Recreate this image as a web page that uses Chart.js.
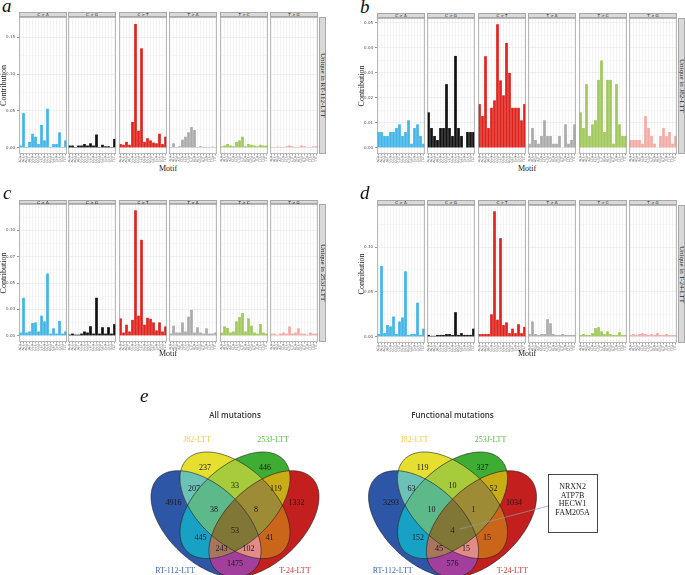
<!DOCTYPE html>
<html>
<head>
<meta charset="utf-8">
<script src="https://cdn.jsdelivr.net/npm/chart.js@4.4.1/dist/chart.umd.min.js"></script>
<style>
  html, body { margin: 0; padding: 0; background: #fff; }
  #page { position: relative; width: 685px; height: 575px; overflow: hidden; background: #fff; }
  #page canvas { position: absolute; }
  .txt { position: absolute; white-space: nowrap; }
  .letter { font: italic 19px "Liberation Serif"; line-height: 19px; color: #111; }
  .strip { position: absolute; box-sizing: border-box; background: #d9d9d9; border: 0.5px solid #a8a8a8;
           font: 4px "DejaVu Sans"; color: #1a1a1a; text-align: center; }
  .rstrip { position: absolute; box-sizing: border-box; background: #d9d9d9; border: 0.5px solid #a8a8a8;
            writing-mode: vertical-rl; font: 7px "Liberation Serif"; color: #1a1a1a;
            display: flex; align-items: center; justify-content: center; }
  .motif { font: 8px "Liberation Serif"; color: #1a1a1a; transform: translateX(-50%); }
</style>
</head>
<body>
<div id="page"></div>
<script>
Chart.defaults.font.family = '"DejaVu Sans", sans-serif';

// mutation types and trinucleotide contexts
const mutationTypes = ["C>A", "C>G", "C>T", "T>A", "T>C", "T>G"];
const typeColors = ["#3fb5e8", "#111111", "#e0231d", "#aaaaaa", "#a0c85a", "#f2aaa5"];
const contextsC = ["ACA","ACC","ACG","ACT","CCA","CCC","CCG","CCT","GCA","GCC","GCG","GCT","TCA","TCC","TCG","TCT"];
const contextsT = ["ATA","ATC","ATG","ATT","CTA","CTC","CTG","CTT","GTA","GTC","GTG","GTT","TTA","TTC","TTG","TTT"];

// relative contribution, 16 contexts per mutation type (C>A, C>G, C>T, T>A, T>C, T>G)
const rt112Unique = [
  0.003,0.047,0.001,0.008,0.019,0.015,0.005,0.031,0.010,0.053,0.001,0.005,0.005,0.021,0.001,0.010,
  0.003,0.003,0.001,0.003,0.003,0.005,0.003,0.006,0.003,0.018,0.001,0.004,0.002,0.002,0.001,0.012,
  0.005,0.004,0.008,0.004,0.035,0.168,0.023,0.135,0.008,0.013,0.010,0.007,0.006,0.019,0.005,0.015,
  0.001,0.006,0.001,0.002,0.011,0.015,0.021,0.028,0.024,0.001,0.002,0.001,0.001,0.001,0.0015,0.001,
  0.002,0.003,0.005,0.003,0.002,0.008,0.010,0.015,0.002,0.005,0.004,0.003,0.002,0.004,0.003,0.003,
  0.001,0.001,0.0015,0.001,0.001,0.002,0.003,0.002,0.001,0.001,0.003,0.002,0.001,0.001,0.002,0.002
];
const j82Unique = [
  0.0063,0.0063,0.0047,0.0047,0.0063,0.0063,0.0079,0.0094,0.0047,0.0063,0.011,0.0016,0.0079,0.0094,0.0047,0.0016,
  0.0142,0.0079,0.0047,0.0031,0.0079,0.0079,0.0255,0.0079,0.0047,0.0368,0.0079,0.0047,0,0.0063,0.0063,0.0063,
  0.0175,0.0127,0.0367,0.0079,0.016,0.019,0.0495,0.027,0.021,0.042,0.030,0.016,0.016,0.016,0.011,0.0175,
  0.0016,0.0079,0.0031,0.0016,0.0047,0.011,0.0047,0.0047,0.0016,0.0016,0.0047,0,0.0094,0.0016,0.0031,0.0094,
  0.0142,0.0079,0.0255,0.0047,0.0094,0.011,0.0272,0.035,0.0063,0.0272,0.0272,0.0016,0.0255,0.0094,0.0047,0.0047,
  0.0031,0.0031,0.0031,0.0031,0.0016,0.0127,0.0079,0.0047,0.0016,0,0.0047,0.0079,0.0047,0.0063,0.0016,0.0047
];
const j253Unique = [
  0.003,0.036,0.003,0.004,0.012,0.0126,0.004,0.019,0.0136,0.059,0.002,0.007,0.002,0.014,0.002,0.004,
  0.001,0.002,0.001,0.001,0.002,0.004,0.003,0.009,0.002,0.036,0.002,0.008,0.002,0.008,0.002,0.011,
  0.0164,0.003,0.0104,0.004,0.015,0.119,0.019,0.091,0.0104,0.017,0.016,0.0126,0.005,0.0126,0.004,0.0088,
  0.002,0.0095,0.003,0.003,0.0126,0.004,0.018,0.0246,0.003,0.008,0.003,0.002,0.007,0.002,0.002,0.003,
  0.003,0.0088,0.0073,0.003,0.004,0.0136,0.0177,0.0215,0.004,0.0164,0.0095,0.003,0.002,0.011,0.003,0.002,
  0.002,0.002,0.001,0.002,0.003,0.002,0.0088,0.002,0.003,0.007,0.002,0.002,0.001,0.003,0.002,0.002
];
const t24Unique = [
  0.003,0.079,0.004,0.013,0.0115,0.0226,0.003,0.017,0.0215,0.073,0.002,0.003,0.003,0.038,0.002,0.009,
  0.002,0.001,0.001,0.002,0.002,0.002,0.003,0.003,0.002,0.0274,0.002,0.004,0.002,0.002,0.002,0.009,
  0.003,0.003,0.003,0.003,0.025,0.14,0.019,0.11,0.013,0.016,0.004,0.009,0.004,0.014,0.004,0.011,
  0.003,0.017,0.003,0.002,0.003,0.003,0.0196,0.015,0.003,0.002,0.002,0.003,0.002,0.002,0.002,0.002,
  0.002,0.003,0.002,0.002,0.004,0.0096,0.0107,0.006,0.003,0.006,0.003,0.002,0.002,0.005,0.002,0.002,
  0.002,0.003,0.002,0.003,0.004,0.003,0.002,0.003,0.002,0.004,0.002,0.002,0.003,0.002,0.002,0.002
];

// y ticks (labelled) and minor grid lines
const yMajorA = [0, 0.05, 0.10, 0.15];
const yMinorA = [0.025, 0.075, 0.125, 0.175];
const yMajorB = [0, 0.01, 0.02, 0.03, 0.04, 0.05];
const yMinorB = [0.005, 0.015, 0.025, 0.035, 0.045];
const yMajorC = [0, 0.025, 0.05, 0.075, 0.10];
const yMinorC = [0.0125, 0.0375, 0.0625, 0.0875, 0.1125];
const yMajorD = [0, 0.05, 0.10];
const yMinorD = [0.025, 0.075, 0.125];

// venn diagrams: sets and regions (0 RT-112, 1 J82, 2 253J, 3 T-24)
const vennSets = ["RT-112-LTT", "J82-LTT", "253J-LTT", "T-24-LTT"];
const regionKeys = ["0","1","2","3","01","12","23","03","02","13","012","123","023","013","0123"];
const allMutations = [4916, 237, 446, 1332, 207, 33, 119, 1475, 445, 41, 38, 8, 243, 102, 53];
const functionalMutations = [3293, 119, 327, 1034, 63, 10, 52, 576, 152, 15, 10, 1, 45, 15, 4];
const sharedGenes = ["NRXN2", "ATP7B", "HECW1", "FAM205A"];

// ---------- layout ----------
const page = document.getElementById("page");

function addCanvas(x, y, w, h) {
  const c = document.createElement("canvas");
  c.width = w; c.height = h;
  c.style.left = x + "px"; c.style.top = y + "px";
  c.style.width = w + "px"; c.style.height = h + "px";
  page.appendChild(c);
  return c;
}

function addDiv(cls, text, x, y, w, h) {
  const d = document.createElement("div");
  d.className = cls;
  d.textContent = text;
  d.style.left = x + "px"; d.style.top = y + "px";
  if (w != null) d.style.width = w + "px";
  if (h != null) { d.style.height = h + "px"; d.style.lineHeight = (h - 0.5) + "px"; }
  page.appendChild(d);
  return d;
}

const leftsLeft = [19, 68, 119, 169, 220, 270];
const leftsRight = [377, 427, 478, 528, 579, 629];
const facetW = 48;
const axisW = 20;

const panels = [
  { letter: "a", label: "Unique in RT-112-LTT", values: rt112Unique, major: yMajorA, minor: yMinorA, yMin: -0.0085, yMax: 0.1775,
    lefts: leftsLeft, top: 17, bottom: 154, stripTop: 12, rstripX: 319, letterPos: [2, -4], motifPos: [168, 164] },
  { letter: "b", label: "Unique in J82-LTT", values: j82Unique, major: yMajorB, minor: yMinorB, yMin: -0.0025, yMax: 0.052,
    lefts: leftsRight, top: 18, bottom: 154, stripTop: 13, rstripX: 678, letterPos: [360, -3], motifPos: [527, 164] },
  { letter: "c", label: "Unique in 253J-LTT", values: j253Unique, major: yMajorC, minor: yMinorC, yMin: -0.006, yMax: 0.125,
    lefts: leftsLeft, top: 204, bottom: 342, stripTop: 200, rstripX: 319, letterPos: [3, 183], motifPos: [168, 349] },
  { letter: "d", label: "Unique in T-24-LTT", values: t24Unique, major: yMajorD, minor: yMinorD, yMin: -0.007, yMax: 0.147,
    lefts: leftsRight, top: 205, bottom: 343, stripTop: 200, rstripX: 678, letterPos: [360, 183], motifPos: [527, 349] }
];

const panelBorder = {
  id: "panelBorder",
  afterDraw(chart) {
    const { ctx, chartArea: a } = chart;
    ctx.save();
    ctx.strokeStyle = "#a9a9a9";
    ctx.lineWidth = 0.8;
    ctx.strokeRect(a.left + 0.4, a.top + 0.4, a.right - a.left - 0.8, a.bottom - a.top - 0.8);
    ctx.restore();
  }
};

function isIn(list, v) {
  return list.some(m => Math.abs(m - v) < 1e-9);
}

function facetChart(p, k) {
  const first = k === 0;
  const extra = first ? axisW : 0;
  const labelBand = 9;
  const cv = addCanvas(p.lefts[k] - extra, p.top, facetW + extra, p.bottom - p.top + labelBand);
  const tickVals = p.major.concat(p.minor).sort((u, v) => u - v);

  new Chart(cv, {
    type: "bar",
    data: {
      labels: k < 3 ? contextsC : contextsT,
      datasets: [{
        data: p.values.slice(k * 16, k * 16 + 16),
        backgroundColor: typeColors[k],
        barPercentage: 0.9,
        categoryPercentage: 1
      }]
    },
    options: {
      responsive: false,
      animation: false,
      devicePixelRatio: 1,
      layout: { padding: 0 },
      plugins: { legend: { display: false }, tooltip: { enabled: false } },
      scales: {
        x: {
          grid: { offset: false, color: "#ebebeb", lineWidth: 0.6, tickLength: 1.5, tickColor: "#666" },
          border: { display: false },
          ticks: {
            autoSkip: false, minRotation: 90, maxRotation: 90, padding: 0.5,
            font: { size: 3.2 }, color: "#555"
          },
          afterFit: s => { s.height = labelBand; s.paddingLeft = 0; s.paddingRight = 0; }
        },
        y: {
          min: p.yMin,
          max: p.yMax,
          afterBuildTicks: s => { s.ticks = tickVals.map(v => ({ value: v })); },
          grid: {
            color: c => isIn(p.major, c.tick.value) ? "#e6e6e6" : "#f3f3f3",
            lineWidth: 0.6,
            drawTicks: first,
            tickLength: 2,
            tickColor: c => isIn(p.major, c.tick.value) ? "#555" : "rgba(0,0,0,0)"
          },
          border: { display: false },
          ticks: {
            display: first,
            padding: 2,
            font: { size: 4 },
            color: "#4d4d4d",
            callback: v => isIn(p.major, v) ? v.toFixed(2) : ""
          },
          title: {
            display: first, text: "Contribution", padding: 0,
            font: { size: 8, family: '"Liberation Serif", serif' }, color: "#1a1a1a"
          },
          afterFit: s => { s.width = extra; s.paddingTop = 0; s.paddingBottom = 0; }
        }
      }
    },
    plugins: [panelBorder]
  });

  addDiv("strip", mutationTypes[k].replace(">", " > "), p.lefts[k], p.stripTop, facetW, p.top - p.stripTop);
}

panels.forEach(p => {
  for (let k = 0; k < 6; k++) facetChart(p, k);
  addDiv("rstrip", p.label, p.rstripX, p.top, 7, null).style.height = (p.bottom - p.top) + "px";
  addDiv("txt letter", p.letter, p.letterPos[0], p.letterPos[1]);
  addDiv("txt motif", "Motif", p.motifPos[0], p.motifPos[1]);
});

addDiv("txt letter", "e", 140, 386);

// ---------- venn diagrams ----------
const vennEllipses = [
  { cx: 0.35, cy: 0.47, a: 0.35, b: 0.20, rot: -45 },
  { cx: 0.50, cy: 0.57, a: 0.35, b: 0.20, rot: -45 },
  { cx: 0.50, cy: 0.57, a: 0.35, b: 0.20, rot: 45 },
  { cx: 0.65, cy: 0.47, a: 0.35, b: 0.20, rot: 45 }
];
const regionColors = ["#2e56a6", "#e6df2f", "#3ead33", "#c31f1f", "#6cc2b6", "#a8cb3b", "#c8ad15",
  "#a23e9b", "#17a1c5", "#c9661a", "#5db98a", "#9d8b36", "#a8765f", "#e38b86", "#807736"];
const regionPos = [[0.181, 0.582], [0.345, 0.769], [0.655, 0.769], [0.819, 0.582], [0.288, 0.657],
  [0.5, 0.673], [0.712, 0.657], [0.5, 0.256], [0.321, 0.395], [0.679, 0.395], [0.391, 0.545],
  [0.609, 0.545], [0.43, 0.336], [0.57, 0.336], [0.5, 0.433]];
const setLabelPos = [[0.19, 0.219], [0.303, 0.919], [0.697, 0.919], [0.81, 0.219]];
const setLabelColors = ["#3d66b5", "#efc94a", "#56b944", "#d03434"];

function ellipsePath(ctx, e, xs, ys) {
  const r = e.rot * Math.PI / 180;
  ctx.beginPath();
  for (let i = 0; i <= 160; i++) {
    const t = i / 160 * 2 * Math.PI;
    const ux = e.a * Math.cos(t), uy = e.b * Math.sin(t);
    const px = xs.getPixelForValue(e.cx + ux * Math.cos(r) - uy * Math.sin(r));
    const py = ys.getPixelForValue(e.cy + ux * Math.sin(r) + uy * Math.cos(r));
    if (i === 0) ctx.moveTo(px, py); else ctx.lineTo(px, py);
  }
  ctx.closePath();
}

function vennPlugin(counts, title, callout) {
  return {
    id: "venn",
    beforeDatasetsDraw(chart) {
      const { ctx, scales: { x, y } } = chart;
      const order = regionKeys.map((k, i) => i).sort((i, j) => regionKeys[i].length - regionKeys[j].length);
      order.forEach(i => {
        ctx.save();
        for (const ch of regionKeys[i]) { ellipsePath(ctx, vennEllipses[+ch], x, y); ctx.clip(); }
        ctx.fillStyle = regionColors[i];
        ctx.fillRect(0, 0, chart.width, chart.height);
        ctx.restore();
      });
      ctx.save();
      ctx.strokeStyle = "rgba(30,30,30,0.85)";
      ctx.lineWidth = 0.7;
      vennEllipses.forEach(e => { ellipsePath(ctx, e, x, y); ctx.stroke(); });
      ctx.restore();
    },
    afterDatasetsDraw(chart) {
      const { ctx, scales: { x, y } } = chart;
      ctx.save();
      ctx.textAlign = "center";
      ctx.textBaseline = "middle";
      ctx.font = '8px "Liberation Serif"';
      ctx.fillStyle = "#1a1a1a";
      chart.getDatasetMeta(0).data.forEach((pt, i) => ctx.fillText(String(counts[i]), pt.x, pt.y));
      vennSets.forEach((s, i) => {
        ctx.fillStyle = setLabelColors[i];
        ctx.fillText(s, x.getPixelForValue(setLabelPos[i][0]), y.getPixelForValue(setLabelPos[i][1]));
      });
      ctx.font = '600 8px "Open Sans"';
      ctx.fillStyle = "#333";
      ctx.fillText(title, x.getPixelForValue(0.5), y.getPixelForValue(1.048));
      if (callout) {
        const bx0 = x.getPixelForValue(0.995), bx1 = x.getPixelForValue(1.249);
        const by0 = y.getPixelForValue(0.737), by1 = y.getPixelForValue(0.427);
        ctx.strokeStyle = "#999";
        ctx.lineWidth = 0.7;
        ctx.beginPath();
        ctx.moveTo(x.getPixelForValue(0.539), y.getPixelForValue(0.443));
        ctx.lineTo(bx0, y.getPixelForValue(0.566));
        ctx.stroke();
        ctx.fillStyle = "#fff";
        ctx.fillRect(bx0, by0, bx1 - bx0, by1 - by0);
        ctx.strokeStyle = "#333";
        ctx.lineWidth = 0.9;
        ctx.strokeRect(Math.round(bx0) + 0.5, Math.round(by0) + 0.5, Math.round(bx1 - bx0), Math.round(by1 - by0));
        ctx.font = '8px "Liberation Serif"';
        ctx.fillStyle = "#1a1a1a";
        const ly = [0.668, 0.620, 0.577, 0.529];
        callout.forEach((g, i) => ctx.fillText(g, (bx0 + bx1) / 2, y.getPixelForValue(ly[i])));
      }
      ctx.restore();
    }
  };
}

const vennScaleX = 193, vennScaleY = 187;   // px per unit
const vennTopPx = 452, vennTopUnit = 0.855;

function vennChart(box, centerPx, counts, title, callout) {
  const cv = addCanvas(box.x, box.y, box.w, box.h);
  new Chart(cv, {
    type: "scatter",
    data: { datasets: [{ data: regionPos.map(p => ({ x: p[0], y: p[1] })), pointRadius: 0 }] },
    options: {
      responsive: false,
      animation: false,
      devicePixelRatio: 1,
      layout: { padding: 0 },
      plugins: { legend: { display: false }, tooltip: { enabled: false } },
      scales: {
        x: { type: "linear", display: false,
             min: 0.5 + (box.x - centerPx) / vennScaleX, max: 0.5 + (box.x + box.w - centerPx) / vennScaleX },
        y: { type: "linear", display: false,
             min: vennTopUnit - (box.y + box.h - vennTopPx) / vennScaleY, max: vennTopUnit + (vennTopPx - box.y) / vennScaleY }
      }
    },
    plugins: [vennPlugin(counts, title, callout)]
  });
}

vennChart({ x: 130, y: 405, w: 215, h: 170 }, 235, allMutations, "All mutations", null);
vennChart({ x: 345, y: 405, w: 340, h: 170 }, 452.5, functionalMutations, "Functional mutations", sharedGenes);
</script>
</body>
</html>
